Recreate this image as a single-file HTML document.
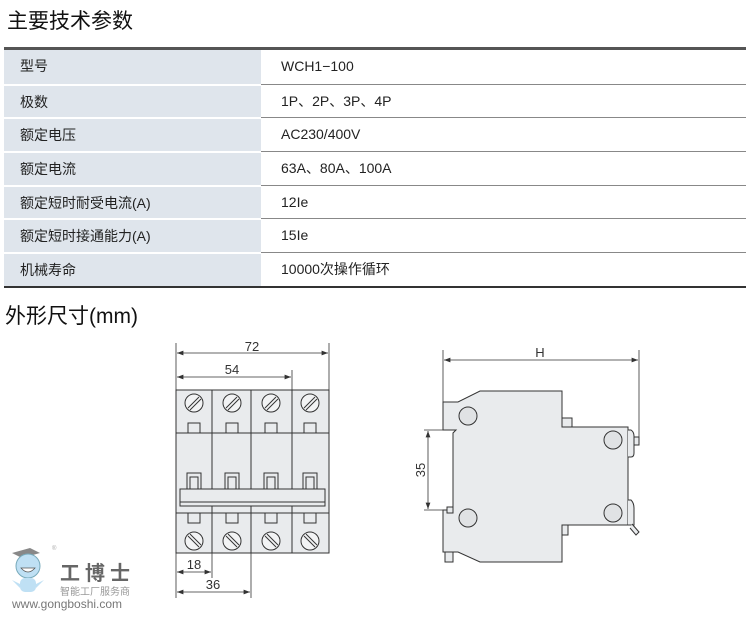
<!DOCTYPE html>
<html><head><meta charset="utf-8"><style>
body{margin:0;width:750px;height:624px;background:#fff;position:relative;overflow:hidden;font-family:"Liberation Sans","Noto Sans CJK SC",sans-serif;color:#222}
.h{position:absolute;font-size:21px;color:#111}
.t{position:absolute;left:4px;top:47px;width:742px;border-top:3px solid #555;border-bottom:2px solid #333}
.r{height:33.7px;display:flex;font-size:14px;line-height:33.7px}
.l{width:257px;background:#dfe5ec;padding-left:16px;box-sizing:border-box;border-top:2px solid #fff}
.v{flex:1;padding-left:20px;border-top:1px solid #888}
.r:first-child .l{border-top:none}.r:first-child .v{border-top:none}
</style></head><body>
<div class="h" style="left:7px;top:5px">主要技术参数</div>
<div class="t">
<div class="r"><div class="l">型号</div><div class="v">WCH1−100</div></div>
<div class="r"><div class="l">极数</div><div class="v">1P、2P、3P、4P</div></div>
<div class="r"><div class="l">额定电压</div><div class="v">AC230/400V</div></div>
<div class="r"><div class="l">额定电流</div><div class="v">63A、80A、100A</div></div>
<div class="r"><div class="l">额定短时耐受电流(A)</div><div class="v">12Ie</div></div>
<div class="r"><div class="l">额定短时接通能力(A)</div><div class="v">15Ie</div></div>
<div class="r"><div class="l">机械寿命</div><div class="v">10000次操作循环</div></div>
</div>
<div class="h" style="left:5px;top:300px">外形尺寸(mm)</div>
<svg width="750" height="624" style="position:absolute;left:0;top:0" font-family="Liberation Sans, sans-serif" font-size="13" fill="none" stroke="#333" stroke-width="1">
<defs><marker id="a" markerWidth="8" markerHeight="6" refX="8" refY="3" orient="auto-start-reverse"><path d="M0,0L8,3L0,6z" fill="#333" stroke="none"/></marker></defs>
<rect x="176" y="390" width="153" height="163" fill="#e9ebed"/>
<line x1="176" y1="433" x2="329" y2="433"/><line x1="176" y1="513" x2="329" y2="513"/>
<line x1="212" y1="390" x2="212" y2="553"/><line x1="251" y1="390" x2="251" y2="553"/><line x1="292" y1="390" x2="292" y2="553"/>
<g id="p">
<circle cx="194" cy="403" r="9" fill="#f2f3f4"/><line x1="188" y1="408" x2="199" y2="397"/><line x1="190" y1="410" x2="201" y2="399"/>
<rect x="188" y="423" width="12" height="10"/>
<rect x="187" y="473" width="14" height="16"/><rect x="190" y="477" width="8" height="12"/>
<rect x="188" y="513" width="12" height="10"/>
<circle cx="194" cy="541" r="9" fill="#f2f3f4"/><line x1="188" y1="536" x2="199" y2="547"/><line x1="190" y1="534" x2="201" y2="545"/>
</g>
<use href="#p" x="38"/><use href="#p" x="77"/><use href="#p" x="116"/>
<rect x="180" y="489" width="145" height="17" fill="#e9ebed"/><line x1="180" y1="502" x2="325" y2="502"/>
<g stroke-width="0.8">
<line x1="176" y1="343" x2="176" y2="598"/><line x1="329" y1="343" x2="329" y2="390"/><line x1="292" y1="370" x2="292" y2="390"/>
<line x1="212" y1="553" x2="212" y2="578"/><line x1="251" y1="553" x2="251" y2="598"/>
<line x1="177" y1="353" x2="328" y2="353" marker-start="url(#a)" marker-end="url(#a)"/>
<line x1="177" y1="377" x2="291" y2="377" marker-start="url(#a)" marker-end="url(#a)"/>
<line x1="177" y1="572" x2="211" y2="572" marker-start="url(#a)" marker-end="url(#a)"/>
<line x1="177" y1="592" x2="250" y2="592" marker-start="url(#a)" marker-end="url(#a)"/>
</g>
<g fill="#333" stroke="none" text-anchor="middle">
<text x="252" y="351">72</text><text x="232" y="374">54</text><text x="194" y="569">18</text><text x="213" y="589">36</text>
<text x="540" y="357">H</text>
<text transform="translate(425,470) rotate(-90)">35</text>
</g>
<path d="M443,402L458,402L480,391L562,391L562,427L628,427L628,525L562,525L562,562L480,562L458,552L443,552L443,510L453,510L453,433L456,430L443,430Z" fill="#e9ebed"/>
<circle cx="468" cy="416" r="9" fill="#e0e2e4"/><circle cx="613" cy="440" r="9" fill="#e0e2e4"/>
<circle cx="468" cy="518" r="9" fill="#e0e2e4"/><circle cx="613" cy="513" r="9" fill="#e0e2e4"/>
<rect x="562" y="418" width="10" height="9" fill="#e9ebed"/><rect x="562" y="525" width="6" height="10" fill="#e9ebed"/>
<rect x="445" y="552" width="8" height="10" fill="#e9ebed"/><rect x="447" y="507" width="6" height="6" fill="#e9ebed"/>
<path d="M628,430L631,430Q634,432 634,436L634,453Q634,457 631,457L628,457" fill="#e9ebed"/>
<rect x="634" y="437" width="5" height="8" fill="#e9ebed"/>
<path d="M628,500L631,500Q634,503 634,508L634,525L628,525" fill="#e9ebed"/>
<path d="M632,524L639,532L636,535L630,528" fill="#e9ebed"/>
<g stroke-width="0.8">
<line x1="443" y1="350" x2="443" y2="402"/><line x1="639" y1="350" x2="639" y2="440"/>
<line x1="444" y1="360" x2="638" y2="360" marker-start="url(#a)" marker-end="url(#a)"/>
<line x1="424" y1="430" x2="443" y2="430"/><line x1="424" y1="510" x2="443" y2="510"/>
<line x1="428" y1="431" x2="428" y2="509" marker-start="url(#a)" marker-end="url(#a)"/>
</g>
<g stroke="none">
<path d="M12,553L30,548L40,553L22,558Z" fill="#888"/>
<circle cx="28" cy="566" r="12" fill="#bfe0f4" stroke="#7ab" stroke-width="1"/>
<path d="M21,568Q28,576 35,568Z" fill="#fff" stroke="#555" stroke-width="0.7"/>
<rect x="20" y="578" width="16" height="14" rx="5" fill="#bfe0f4"/>
<path d="M12,580L20,584L20,588Z M44,580L36,584L36,588Z" fill="#bfe0f4"/>
<text x="60" y="580" font-size="20" font-weight="bold" fill="#666" font-family="Noto Sans CJK SC, sans-serif" letter-spacing="5">工博士</text>
<text x="60" y="595" font-size="10" fill="#999" font-family="Noto Sans CJK SC, sans-serif">智能工厂服务商</text>
<text x="12" y="608" font-size="12" fill="#777">www.gongboshi.com</text>
<text x="52" y="550" font-size="6" fill="#aaa">®</text>
</g>
</svg>
</body></html>
